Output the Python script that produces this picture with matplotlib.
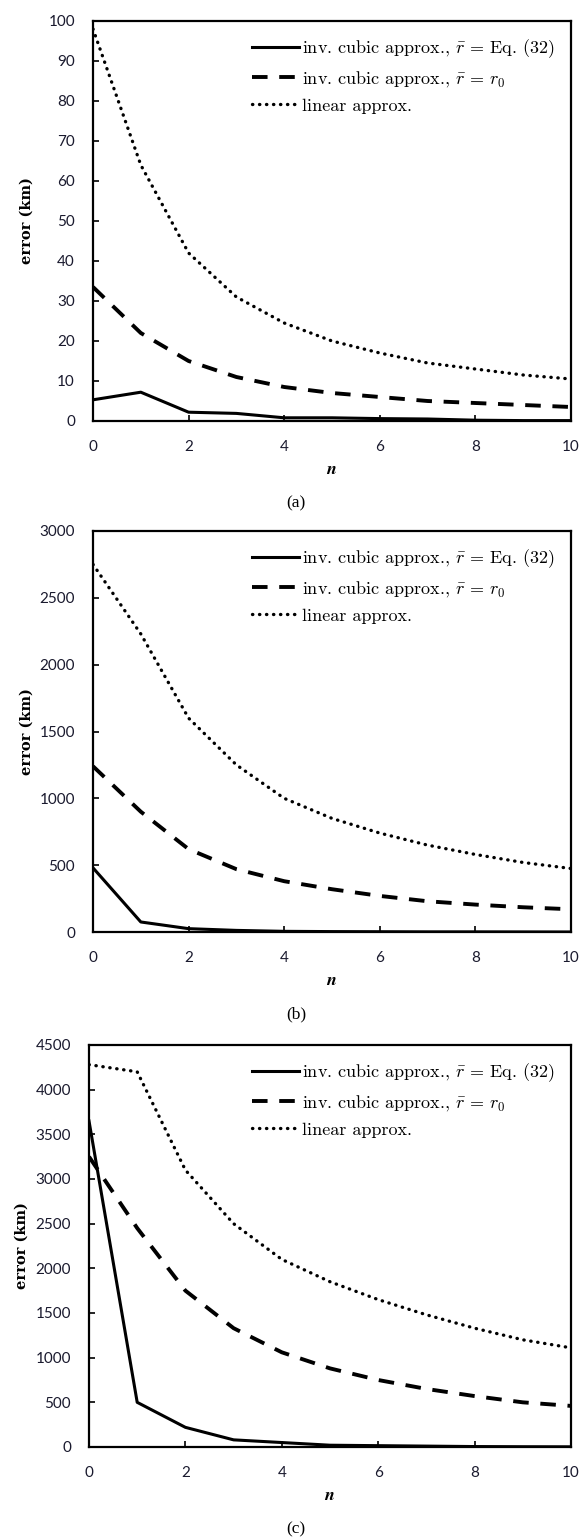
import matplotlib
matplotlib.use("Agg")
import matplotlib.pyplot as plt

plt.rcParams["mathtext.fontset"] = "cm"

n = list(range(11))

# panel (a)
a_eq32 = [5.3, 7.2, 2.2, 1.9, 0.8, 0.8, 0.6, 0.5, 0.2, 0.1, 0.1]
a_r0 = [33.5, 22.0, 15.0, 11.0, 8.5, 7.0, 6.0, 5.0, 4.5, 4.0, 3.5]
a_lin = [98.0, 64.0, 42.0, 31.0, 24.5, 20.0, 17.0, 14.5, 13.0, 11.5, 10.5]

# panel (b)
b_eq32 = [480, 75, 25, 12, 5, 3, 2, 1, 1, 0.5, 0]
b_r0 = [1240, 900, 620, 470, 380, 320, 270, 230, 205, 185, 170]
b_lin = [2750, 2230, 1600, 1250, 1000, 850, 740, 650, 580, 520, 475]

# panel (c)
c_eq32 = [3650, 500, 220, 80, 50, 20, 15, 10, 5, 3, 2]
c_r0 = [3250, 2450, 1750, 1330, 1060, 880, 750, 650, 570, 500, 460]
c_lin = [4280, 4200, 3100, 2500, 2100, 1850, 1650, 1480, 1330, 1200, 1110]

labels = [
    r"inv. cubic approx., $\bar{r}$ = Eq. (32)",
    r"inv. cubic approx., $\bar{r}\,=\,r_0$",
    "linear approx.",
]

panels = [
    # data, ymax, yticks, caption, (left, top, right, bottom) in px, caption y
    ((a_eq32, a_r0, a_lin), 100, range(0, 101, 10), "(a)", (93, 21, 571, 421), 503),
    ((b_eq32, b_r0, b_lin), 3000, range(0, 3001, 500), "(b)", (93, 531, 571, 932), 1014),
    ((c_eq32, c_r0, c_lin), 4500, range(0, 4501, 500), "(c)", (89, 1045, 571, 1447), 1529),
]

W, H = 581, 1537
fig = plt.figure(figsize=(W / 100, H / 100), dpi=100)

for (eq32, r0, lin), ymax, yticks, cap, (l, t, r, b), cap_y in panels:
    ax = fig.add_axes([l / W, 1 - b / H, (r - l) / W, (b - t) / H])
    ax.plot(n, eq32, color="black", lw=2.2, ls="-", label=labels[0])
    ax.plot(n, r0, color="black", lw=2.8, ls=(0, (4, 3)), label=labels[1])
    ax.plot(n, lin, color="black", lw=2.4, ls=(0, (0.1, 2.0)),
            dash_capstyle="round", label=labels[2])
    ax.set_xlim(0, 10)
    ax.set_ylim(0, ymax)
    ax.set_xticks(range(0, 11, 2))
    ax.set_yticks(list(yticks))
    for s in ax.spines.values():
        s.set_linewidth(1.6)
    ax.tick_params(axis="x", direction="in", length=4, width=1.2, pad=14)
    ax.tick_params(axis="y", direction="in", length=4, width=1.2, pad=13)
    for lab in ax.get_xticklabels() + ax.get_yticklabels():
        lab.set_fontfamily("Lato")
        lab.set_fontsize(11)
        lab.set_color("#1a1a2e")
    ax.set_ylabel("error (km)", fontfamily="DejaVu Serif", fontweight="bold", fontsize=10.5)
    ax.yaxis.set_label_coords(-0.125, 0.5)
    ax.set_xlabel(r"$\boldsymbol{n}$", fontsize=13, labelpad=4)
    ax.legend(loc="upper right", frameon=False, prop={"family": "cmr10", "size": 13},
              handlelength=2.6, handletextpad=0.15, labelspacing=0.5,
              borderaxespad=0.5)
    fig.text(296 / W, 1 - cap_y / H, cap, ha="center", va="center",
             fontfamily="Liberation Serif", fontsize=12.5)

fig.savefig("out.png", dpi=100)
